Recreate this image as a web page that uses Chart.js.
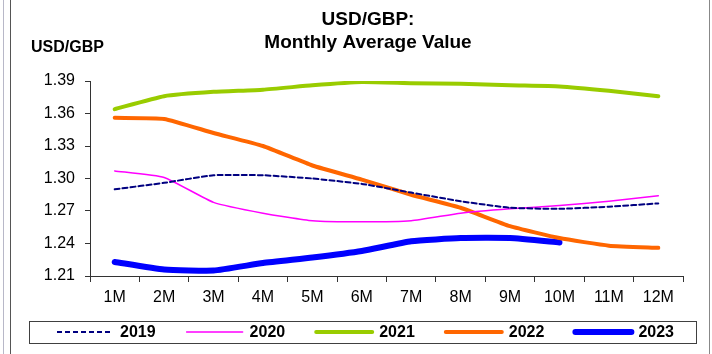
<!DOCTYPE html>
<html>
<head>
<meta charset="utf-8">
<title>USD/GBP Monthly Average Value</title>
<script src="https://cdn.jsdelivr.net/npm/chart.js@4"></script>
<style>
  html, body { margin: 0; padding: 0; background: #fff; }
  #wrap { width: 712px; height: 354px; position: relative; }
</style>
</head>
<body>
<div id="wrap"><canvas id="fxChart" width="712" height="354"></canvas></div>
<script>
// ==============================
// DATA
// ==============================
const months = ['1M', '2M', '3M', '4M', '5M', '6M', '7M', '8M', '9M', '10M', '11M', '12M'];

const y2019 = [1.290, 1.296, 1.303, 1.303, 1.300, 1.295, 1.287, 1.279, 1.273, 1.272, 1.274, 1.277];
const y2020 = [1.307, 1.301, 1.278, 1.268, 1.261, 1.260, 1.261, 1.268, 1.272, 1.275, 1.279, 1.284];
const y2021 = [1.364, 1.376, 1.380, 1.382, 1.386, 1.389, 1.388, 1.3875, 1.386, 1.385, 1.381, 1.376];
const y2022 = [1.356, 1.355, 1.342, 1.330, 1.312, 1.299, 1.285, 1.273, 1.256, 1.245, 1.238, 1.236];
const y2023 = [1.223, 1.216, 1.215, 1.222, 1.227, 1.233, 1.242, 1.245, 1.245, 1.241];

const yMin = 1.21;
const yMax = 1.39;
const yStep = 0.03;

const FONT = "'Liberation Sans', Arial, sans-serif";

// ==============================
// TITLES, FRAME & LEGEND
// ==============================
const decorations = {
  id: 'decorations',
  afterDraw(chart) {
    const ctx = chart.ctx;
    ctx.save();

    // outer frame lines
    ctx.lineWidth = 1;
    ctx.strokeStyle = '#b8b8c8';
    ctx.beginPath(); ctx.moveTo(3.5, 0); ctx.lineTo(3.5, 354); ctx.stroke();
    ctx.strokeStyle = '#555';
    ctx.beginPath(); ctx.moveTo(10.5, 0); ctx.lineTo(10.5, 354); ctx.stroke();
    ctx.strokeStyle = '#888';
    ctx.beginPath(); ctx.moveTo(709.5, 0); ctx.lineTo(709.5, 354); ctx.stroke();

    // chart title
    ctx.fillStyle = '#000';
    ctx.textAlign = 'center';
    ctx.textBaseline = 'middle';
    ctx.font = 'bold 19px ' + FONT;
    ctx.fillText('USD/GBP:', 368, 20);
    ctx.fillText('Monthly Average Value', 368, 43);

    // axis caption
    ctx.textAlign = 'left';
    ctx.font = 'bold 16px ' + FONT;
    ctx.fillText('USD/GBP', 31, 48);

    // legend: one line sample + year per dataset, inside a box
    ctx.strokeStyle = '#404040';
    ctx.setLineDash([]);
    ctx.strokeRect(29.5, 321.5, 667, 22);
    chart.data.datasets.forEach((ds, i) => {
      const x0 = 57 + i * 129.6;
      const y = 332;
      ctx.save();
      ctx.strokeStyle = ds.borderColor;
      ctx.lineWidth = ds.borderWidth;
      ctx.lineCap = ds.borderDash ? 'butt' : 'round';
      ctx.setLineDash(ds.borderDash || []);
      ctx.beginPath();
      ctx.moveTo(x0, y);
      ctx.lineTo(x0 + 56, y);
      ctx.stroke();
      ctx.restore();
      ctx.fillStyle = '#000';
      ctx.font = 'bold 16px ' + FONT;
      ctx.textBaseline = 'middle';
      ctx.fillText(ds.label, x0 + 63, y + 1);
    });
    ctx.restore();
  }
};

// ==============================
// CHART
// ==============================
const line = new Chart(document.getElementById('fxChart'), {
  type: 'line',
  data: {
    labels: months,
    datasets: [
      { label: '2019', data: y2019, borderColor: '#000080', backgroundColor: '#000080', borderWidth: 2, borderDash: [5, 3] },
      { label: '2020', data: y2020, borderColor: '#ff00ff', backgroundColor: '#ff00ff', borderWidth: 1.5 },
      { label: '2021', data: y2021, borderColor: '#99cc00', backgroundColor: '#99cc00', borderWidth: 4 },
      { label: '2022', data: y2022, borderColor: '#ff6600', backgroundColor: '#ff6600', borderWidth: 4 },
      { label: '2023', data: y2023, borderColor: '#0000ff', backgroundColor: '#0000ff', borderWidth: 6 }
    ]
  },
  options: {
    responsive: false,
    animation: false,
    devicePixelRatio: 1,
    elements: {
      point: { radius: 0, hoverRadius: 0 },
      line: { tension: 0.15, borderCapStyle: 'round', borderJoinStyle: 'round', fill: false }
    },
    layout: { padding: { top: 81, left: 0, right: 29, bottom: 38 } },
    plugins: {
      title: { display: false },
      tooltip: { enabled: false },
      legend: { display: false }
    },
    scales: {
      x: {
        offset: true,
        grid: { offset: true, drawOnChartArea: false, tickLength: 6, color: '#333' },
        border: { color: '#333' },
        ticks: { color: '#000', padding: 6, maxRotation: 0, font: { family: FONT, size: 16 } },
        afterFit: s => { s.height = 40; }
      },
      y: {
        min: yMin,
        max: yMax,
        grid: { drawOnChartArea: false, tickLength: 5, color: '#333' },
        border: { color: '#333' },
        ticks: {
          stepSize: yStep,
          color: '#000',
          padding: 10,
          font: { family: FONT, size: 16 },
          callback: v => v.toFixed(2)
        },
        afterFit: s => { s.width = 90; }
      }
    }
  },
  plugins: [decorations]
});
</script>
</body>
</html>
